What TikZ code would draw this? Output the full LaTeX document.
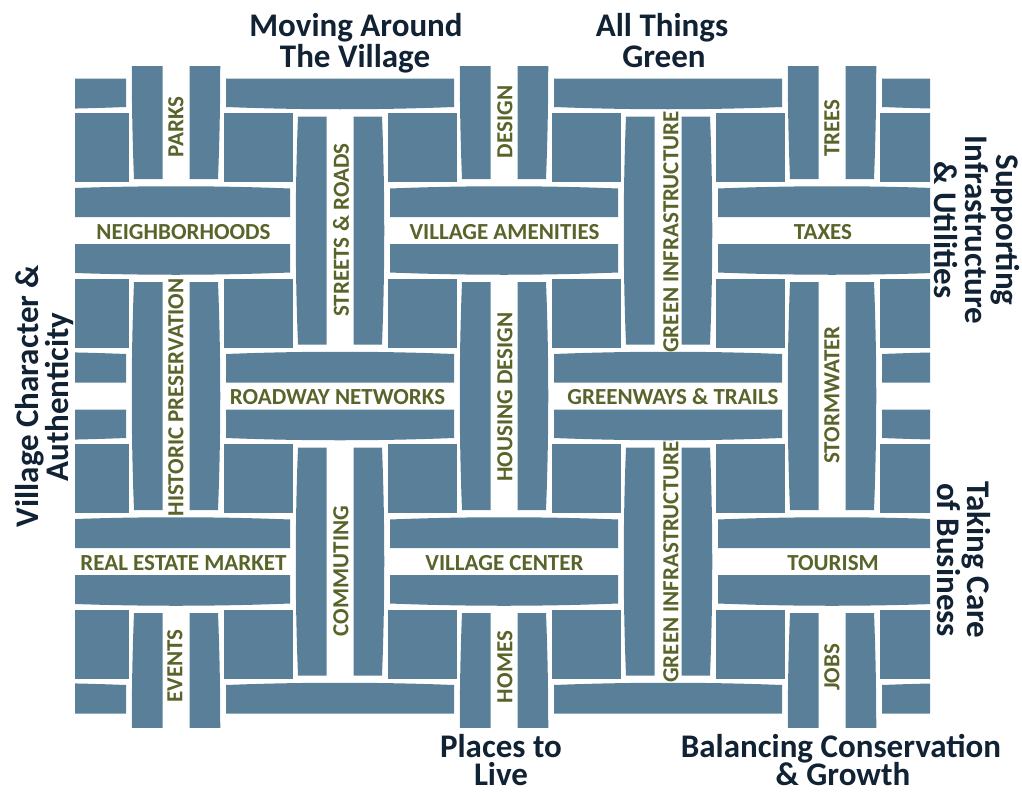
\documentclass[tikz,border=0pt]{standalone}
\usepackage{fontspec}
\setmainfont{Carlito}
\definecolor{weave}{RGB}{90,128,153}
\definecolor{lab}{RGB}{88,100,42}
\definecolor{ttl}{RGB}{16,34,52}
\begin{document}
\begin{tikzpicture}[x=1pt,y=-1pt,
  strip/.style={fill=weave,draw=none},
  lbl/.style={text=lab,font=\fontsize{23}{23}\selectfont\bfseries,inner sep=0pt,anchor=center},
  vlbl/.style={lbl,rotate=90},
  ttlA/.style={text=ttl,font=\fontsize{33}{30}\selectfont\bfseries,inner sep=0pt,anchor=base}]
\useasboundingbox (0,0) rectangle (1022,792);
\fill[white] (0,0) rectangle (1022,792);
\begin{scope}
\clip (75,67) rectangle (930,727);
\foreach \i in {-1,...,5}{
  \foreach \j in {0,...,4}{
    \pgfmathsetmacro{\cx}{176+164*\i}
    \pgfmathsetmacro{\cy}{65+165.5*\j}
    \pgfmathtruncatemacro{\t}{mod(\i+\j+10,2)}
    \ifnum\t=0
      \fill[strip] (\cx-13.5,\cy-114) -- (\cx-13.5,\cy+114) -- (\cx-42,\cy+114)
        .. controls (\cx-45,\cy+38) and (\cx-45,\cy-38) .. (\cx-42,\cy-114) -- cycle;
      \fill[strip] (\cx+13.5,\cy-114) -- (\cx+13.5,\cy+114) -- (\cx+42,\cy+114)
        .. controls (\cx+45,\cy+38) and (\cx+45,\cy-38) .. (\cx+42,\cy-114) -- cycle;
    \else
      \fill[strip] (\cx-114,\cy-13.5) -- (\cx+114,\cy-13.5) -- (\cx+114,\cy-42)
        .. controls (\cx+38,\cy-45) and (\cx-38,\cy-45) .. (\cx-114,\cy-42) -- cycle;
      \fill[strip] (\cx-114,\cy+13.5) -- (\cx+114,\cy+13.5) -- (\cx+114,\cy+42)
        .. controls (\cx+38,\cy+45) and (\cx-38,\cy+45) .. (\cx-114,\cy+42) -- cycle;
    \fi
  }}
\foreach \i in {-1,...,4}{
  \foreach \j in {0,...,3}{
    \pgfmathsetmacro{\bx}{176+164*\i+82}
    \pgfmathsetmacro{\by}{65+165.5*\j+82.75}
    \fill[strip] (\bx-34.5,\by-34.5) rectangle (\bx+34.5,\by+34.5);
  }}
\end{scope}
% horizontal labels
\node[lbl] (neigh) at (183.5,232.5) {NEIGHBORHOODS};
\node[lbl] (amen) at (504.5,232.5) {VILLAGE AMENITIES};
\node[lbl] (taxes) at (823,232.5) {TAXES};
\node[lbl] (roadway) at (337.5,397) {ROADWAY NETWORKS};
\node[lbl] (greenways) at (673,397) {GREENWAYS \& TRAILS};
\node[lbl] (realestate) at (183.5,563) {REAL ESTATE MARKET};
\node[lbl] (vcenter) at (504.5,563) {VILLAGE CENTER};
\node[lbl] (tourism) at (833,563) {TOURISM};
% vertical labels
\node[vlbl] (parks) at (176,127) {PARKS};
\node[vlbl] (streets) at (341,230) {STREETS \& ROADS};
\node[vlbl] (design) at (505,122) {DESIGN};
\node[vlbl] (greeninfA) at (671,232) {GREEN INFRASTRUCTURE};
\node[vlbl] (trees) at (832,128) {TREES};
\node[vlbl] (historic) at (176,397.5) {HISTORIC PRESERVATION};
\node[vlbl] (housing) at (505,397) {HOUSING DESIGN};
\node[vlbl] (stormwater) at (832,395) {STORMWATER};
\node[vlbl] (commuting) at (341,571) {COMMUTING};
\node[vlbl] (greeninfB) at (671,562) {GREEN INFRASTRUCTURE};
\node[vlbl] (events) at (175,666) {EVENTS};
\node[vlbl] (homes) at (505,667) {HOMES};
\node[vlbl] (jobs) at (832,667.5) {JOBS};
% titles
\node[ttlA] (t1a) at (356,37) {Moving Around};
\node[ttlA] (t1b) at (355,67) {The Village};
\node[ttlA] (t2a) at (662,37) {All Things};
\node[ttlA] (t2b) at (664,67) {Green};
\node[ttlA] (t3a) at (501,757) {Places to};
\node[ttlA] (t3b) at (501,785) {Live};
\node[ttlA] (t4a) at (841,757) {Balancing Conservation};
\node[ttlA] (t4b) at (843,785) {\& Growth};
\node[ttlA,rotate=90] (t5a) at (38,396) {Village Character \&};
\node[ttlA,rotate=90] (t5b) at (68,397) {Authenticity};
\node[ttlA,rotate=-90] (t6a) at (996,230) {Supporting};
\node[ttlA,rotate=-90] (t6b) at (965,230) {Infrastructure};
\node[ttlA,rotate=-90] (t6c) at (934,230) {\& Utilities};
\node[ttlA,rotate=-90] (t7a) at (967,560) {Taking Care};
\node[ttlA,rotate=-90] (t7b) at (937,560) {of Business};
\end{tikzpicture}
\end{document}
